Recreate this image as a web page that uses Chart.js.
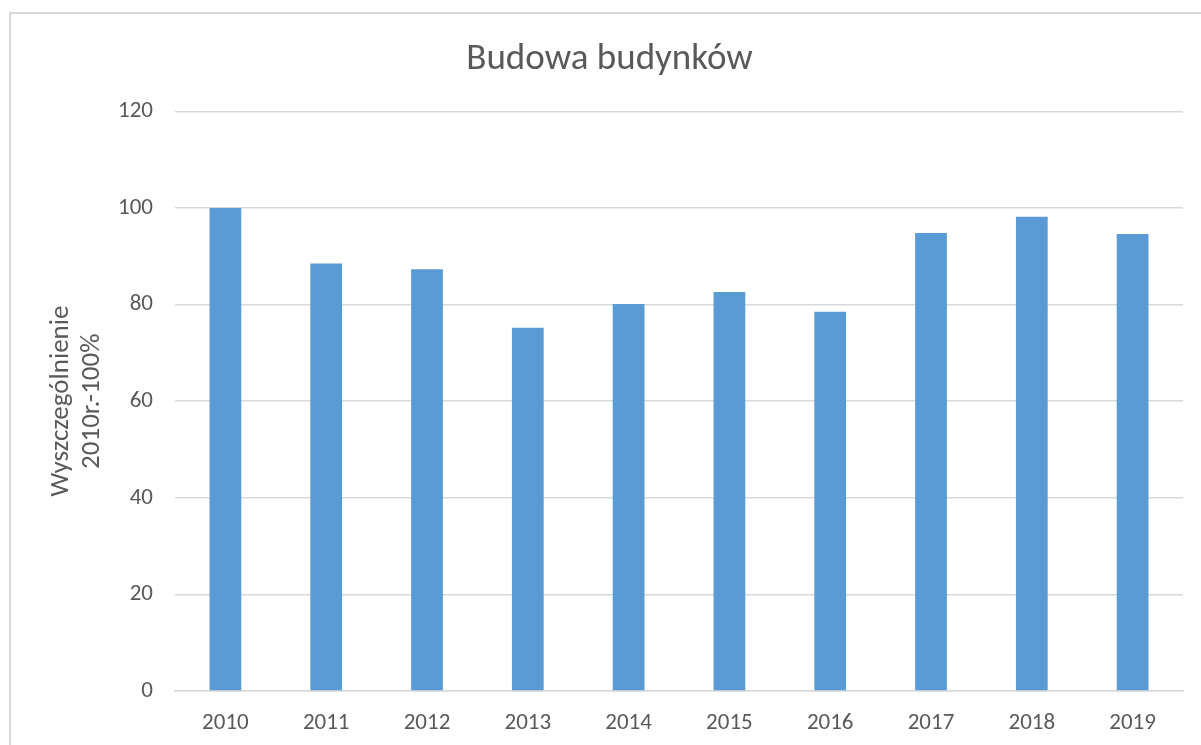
<!DOCTYPE html>
<html>
<head>
<meta charset="utf-8">
<script src="https://cdn.jsdelivr.net/npm/chart.js@4/dist/chart.umd.min.js"></script>
<style>
  html, body { margin: 0; padding: 0; background: #fff; overflow: hidden; }
  #frame { position: absolute; left: 9px; top: 12px; width: 1200px; height: 760px;
           border: 2px solid #d9d9d9; box-sizing: border-box; }
  #wrap { position: absolute; left: 0; top: 0; width: 1201px; height: 745px; }
</style>
</head>
<body>
<div id="frame"></div>
<div id="wrap"><canvas id="c" width="1201" height="745"></canvas></div>
<script>
const years = ['2010', '2011', '2012', '2013', '2014', '2015', '2016', '2017', '2018', '2019'];
const indexValues = [100, 88.5, 87.3, 75.2, 80.1, 82.6, 78.5, 94.8, 98.2, 94.6];
const yTicks = [0, 20, 40, 60, 80, 100, 120];

const fontFamily = "Carlito, Calibri, Lato, 'Open Sans', sans-serif";
const textColor = '#595959';
const gridColor = '#d9d9d9';

new Chart(document.getElementById('c'), {
  type: 'bar',
  data: {
    labels: years,
    datasets: [{
      label: 'Budowa budynków',
      data: indexValues,
      backgroundColor: '#5b9bd5',
      borderWidth: 0,
      categoryPercentage: 1,
      barPercentage: 0.315
    }]
  },
  options: {
    responsive: false,
    animation: false,
    layout: { padding: { left: 36, right: 18, top: 0, bottom: 0 } },
    plugins: {
      legend: { display: false },
      tooltip: { enabled: false },
      title: {
        display: true,
        text: 'Budowa budynków',
        color: textColor,
        font: { family: fontFamily, size: 37, weight: 'normal', lineHeight: 1.2 },
        padding: { top: 38, bottom: 29 }
      }
    },
    scales: {
      x: {
        grid: { display: false },
        border: { display: true, color: gridColor, width: 1.5 },
        ticks: {
          color: textColor,
          font: { family: fontFamily, size: 23 },
          padding: 10,
          maxRotation: 0
        },
        afterFit: s => { s.height = 54; }
      },
      y: {
        min: 0,
        max: 120,
        afterBuildTicks: s => { s.ticks = yTicks.map(v => ({ value: v })); },
        grid: { color: gridColor, lineWidth: 1.5, drawTicks: false },
        border: { display: false },
        ticks: {
          color: textColor,
          font: { family: fontFamily, size: 23 },
          padding: 22
        },
        title: {
          display: true,
          text: ['Wyszczególnienie', '2010r.-100%'],
          color: textColor,
          font: { family: fontFamily, size: 27, lineHeight: 1.15 },
          padding: { top: 10, bottom: 0 }
        },
        afterFit: s => { s.width = 139; }
      }
    }
  }
});
</script>
</body>
</html>
